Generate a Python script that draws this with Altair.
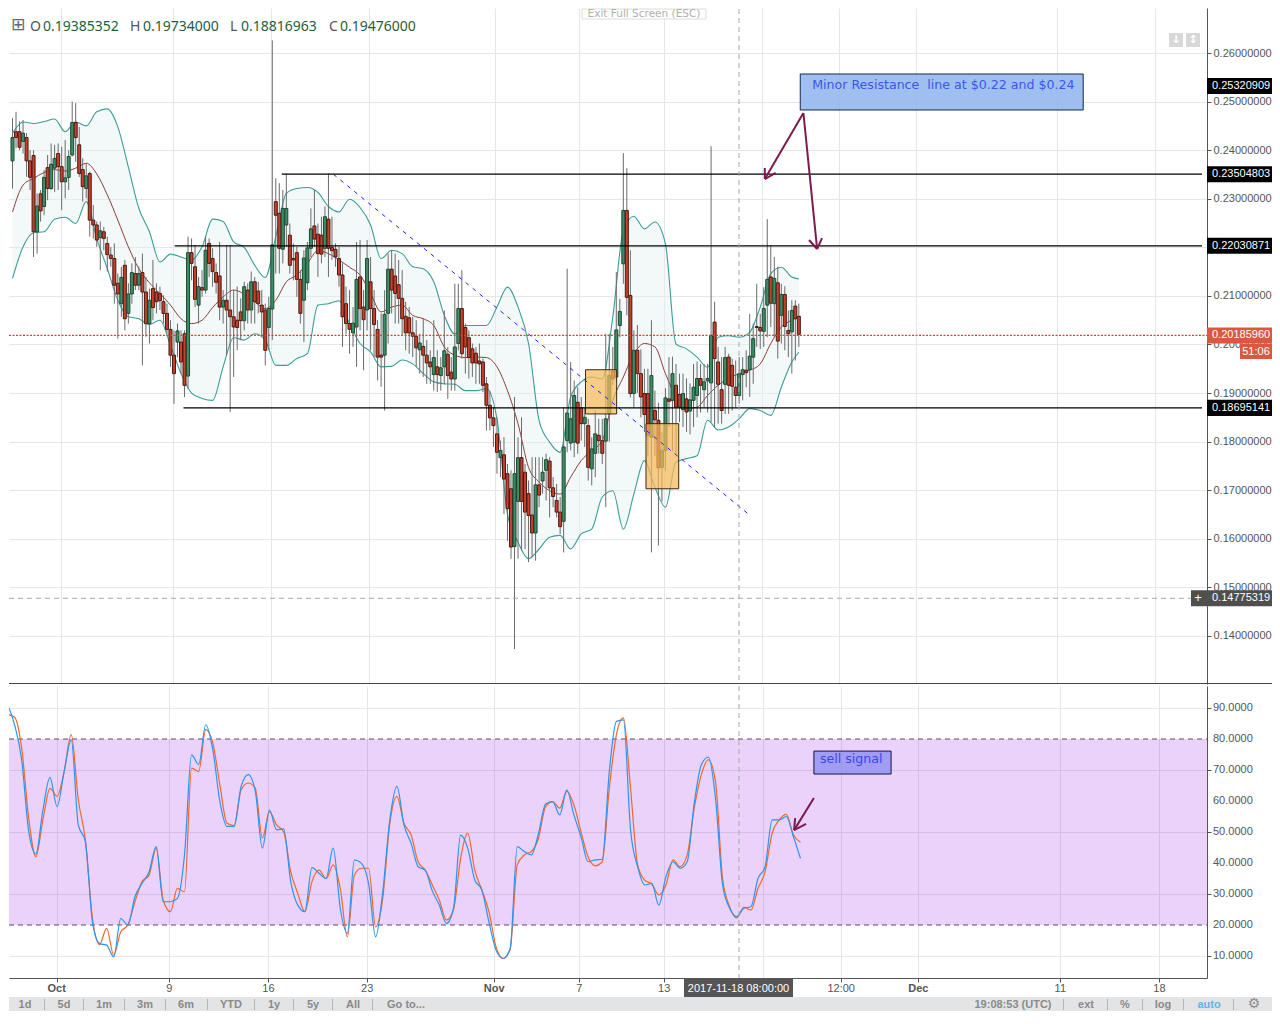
import altair as alt
import pandas as pd

# ---- candles, one row per bar: open, high, low, close (price x 10000)
candles = [
(2378,2466,2321,2426),(2438,2479,2404,2426),(2438,2459,2400,2406),(2418,2462,2393,2435),(2426,2435,2345,2378),
(2378,2400,2318,2344),(2389,2400,2180,2232),(2232,2311,2187,2285),(2310,2318,2253,2275),(2284,2359,2266,2344),
(2364,2390,2297,2321),(2321,2414,2318,2371),(2363,2411,2314,2383),(2393,2414,2318,2366),(2366,2407,2277,2335),
(2335,2421,2301,2343),(2344,2400,2318,2387),(2390,2500,2387,2457),(2457,2497,2376,2426),(2411,2448,2345,2352),
(2360,2383,2294,2325),(2321,2373,2301,2347),(2352,2356,2222,2256),(2256,2287,2218,2246),(2246,2253,2201,2215),
(2220,2253,2153,2234),(2232,2242,2194,2218),(2208,2222,2150,2185),(2184,2201,2160,2177),(2177,2208,2084,2122),
(2126,2146,2012,2104),(2084,2160,2057,2138),(2163,2174,2029,2053),(2064,2126,2043,2104),(2104,2167,2084,2148),
(2146,2180,2112,2122),(2122,2160,2112,2146),(2148,2187,1957,2108),(2108,2139,2016,2043),(2043,2115,2002,2091),
(2115,2174,2050,2076),(2108,2126,2064,2088),(2105,2119,2071,2090),(2088,2101,2043,2064),(2064,2084,2022,2031),
(2031,2050,1954,1978),(1978,2029,1878,1940),(2005,2043,1974,2028),(2005,2029,1940,1964),(2022,2029,1892,1916),
(1935,2222,1909,2189),(2189,2218,2132,2167),(2160,2205,2077,2093),(2081,2139,2043,2119),(2117,2153,2098,2112),
(2112,2222,2105,2194),(2208,2218,2139,2167),(2177,2198,2119,2150),(2148,2167,2105,2128),(2141,2211,2050,2077),
(2077,2112,2043,2091),(2091,2205,1978,2071),(2071,2205,1861,2057),(2057,2112,1933,2036),(2050,2119,1988,2035),
(2067,2095,2009,2049),(2049,2129,2029,2119),(2112,2126,2043,2071),(2071,2150,2043,2129),(2129,2139,2043,2088),
(2110,2129,2064,2084),(2081,2112,2016,2067),(2071,2084,1957,1988),(2035,2098,1988,2074),(2073,2626,2009,2205),
(2294,2342,2146,2266),(2270,2332,2146,2198),(2196,2318,2167,2280),(2246,2352,2201,2280),(2225,2249,2146,2163),
(2177,2208,2132,2174),(2189,2201,2098,2134),(2134,2153,2043,2064),(2091,2194,2005,2178),(2127,2211,2112,2199),
(2198,2280,2180,2238),(2244,2318,2201,2217),(2227,2249,2139,2187),(2225,2263,2167,2186),(2198,2284,2180,2263),
(2258,2352,2139,2198),(2200,2263,2174,2193),(2196,2208,2160,2180),(2177,2201,2119,2143),(2143,2167,1995,2057),
(2084,2119,2022,2043),(2043,2112,1981,2031),(2024,2077,1995,2044),(2036,2211,1954,2134),(2139,2215,2029,2074),
(2077,2112,1947,2051),(2071,2215,2029,2177),(2129,2180,1988,2074),(2074,2112,1974,2041),(2031,2050,1926,1974),
(1978,2064,1913,1974),(1978,2112,1864,2062),(2064,2187,2002,2155),(2155,2194,2064,2112),(2141,2187,2043,2105),
(2123,2174,2043,2095),(2095,2153,2019,2053),(2058,2088,1988,2024),(2055,2077,1981,2024),(2024,2057,1974,2017),
(2017,2050,1954,1993),(1989,2022,1940,2003),(1996,2053,1933,1978),(1978,2009,1919,1962),(1964,1988,1919,1954),
(1938,2050,1905,1973),(1954,1988,1902,1938),(1936,1974,1905,1952),(1954,2070,1919,1987),(1980,1995,1888,1936),
(1943,1974,1905,1929),(1929,2125,1905,1995),(2002,2125,1988,2074),(2074,2153,1971,1981),(2035,2043,1940,1995),
(2014,2029,1930,1973),(1991,2002,1933,1962),(1982,1995,1919,1962),(1966,2002,1919,1960),(1964,1971,1902,1916),
(1919,1933,1823,1875),(1875,1905,1823,1849),(1849,1871,1789,1833),(1816,1850,1734,1778),(1767,1802,1727,1782),
(1773,1809,1651,1723),(1734,1754,1596,1662),(1703,1741,1559,1583),(1584,1892,1373,1734),(1677,1809,1559,1767),
(1767,1850,1576,1677),(1737,1754,1579,1655),(1693,1720,1552,1648),(1649,1768,1562,1612),(1612,1768,1555,1711),
(1711,1768,1665,1690),(1719,1768,1693,1737),(1741,1775,1679,1763),(1760,1768,1644,1705),(1705,1727,1665,1687),
(1679,1713,1644,1655),(1655,1686,1610,1625),(1636,1871,1572,1789),(1802,2156,1778,1859),(1797,1964,1782,1847),
(1799,1926,1768,1895),(1881,1912,1775,1797),(1870,1892,1802,1837),(1837,1871,1789,1850),(1833,1847,1720,1747),
(1744,1809,1710,1785),(1776,1864,1727,1816),(1813,1847,1775,1802),(1802,1847,1754,1776),(1801,2022,1665,1847),
(1857,2022,1800,1936),(1945,1995,1916,1929),(1933,2149,1926,2030),(2039,2094,2015,2068),(2166,2394,2125,2276),
(2276,2363,2060,2097),(2101,2194,1891,1899),(1899,2029,1870,1988),(1988,2040,1900,1940),(1940,1990,1850,1892),
(1899,1950,1820,1856),(1899,1950,1770,1813),(1809,2050,1572,1936),(1864,1905,1770,1845),(1844,1880,1586,1746),
(1747,1820,1677,1782),(1782,1910,1740,1890),(1888,1974,1830,1883),(1885,1975,1780,1940),(1916,1960,1775,1871),
(1897,1940,1840,1871),(1866,1940,1830,1899),(1888,1930,1820,1861),(1863,1920,1815,1886),(1885,1960,1830,1912),
(1895,1965,1850,1930),(1930,1960,1860,1916),(1907,1960,1870,1923),(1925,1960,1860,1930),(1921,2408,1840,2019),
(2046,2088,1830,1971),(1964,1995,1837,1918),(1907,1974,1837,1864),(1918,1995,1857,1973),(1974,1981,1857,1916),
(1957,1971,1864,1914),(1912,1967,1871,1895),(1895,1974,1878,1940),(1938,1974,1885,1948),(1947,1988,1912,1942),
(1948,2063,1892,1976),(1974,2043,1919,2012),(2037,2125,1995,2035),(2035,2063,1991,2028),(2027,2118,1995,2074),
(2081,2258,2015,2134),(2139,2204,2036,2085),(2084,2180,2015,2136),(2127,2160,1971,2007),(2060,2125,2002,2103),
(2103,2120,1988,2037),(2029,2070,1974,2022),(2026,2091,1940,2070),(2079,2091,1967,2053),(2058,2084,1995,2021),
]

# ---- Bollinger bands and moving average, read every third bar (price x 10000)
band_upper = [2435,2458,2455,2459,2464,2438,2458,2450,2479,2485,2448,2365,2280,2232,2170,2186,2180,2174,2201,2258,
 2253,2211,2200,2163,2138,2222,2311,2321,2323,2313,2284,2273,2299,2282,2246,2177,2194,2187,
 2160,2156,2129,2060,2022,2039,2039,2039,2077,2118,2077,2002,1844,1799,1778,1892,1923,1933,1929,2057,
 2235,2264,2238,2252,2207,2001,1991,1974,1953,2015,2018,2015,2025,2077,2146,2159,2139,2135]
band_lower = [2136,2201,2230,2232,2258,2262,2249,2294,2218,2156,2091,2057,2053,2041,2050,1998,1940,1900,1889,1885,
 1954,2014,2009,2022,2009,1957,1957,1971,1981,2081,2084,2090,2043,2002,1985,1954,1955,1968,
 1960,1940,1923,1919,1918,1905,1905,1909,1847,1651,1593,1559,1579,1603,1607,1579,1610,1620,1686,1699,
 1620,1692,1761,1706,1665,1758,1765,1771,1844,1824,1830,1847,1868,1864,1854,1912,1964,1984]
band_mid = [2273,2328,2342,2354,2360,2357,2363,2373,2351,2308,2256,2201,2156,2127,2105,2081,2053,2043,2050,2076,
 2098,2112,2104,2088,2074,2091,2129,2143,2167,2193,2187,2174,2159,2143,2105,2067,2077,2081,
 2060,2053,2039,1995,1978,1973,1974,1973,1954,1905,1837,1747,1717,1699,1692,1727,1761,1782,1802,1885,
 1933,1981,2002,1995,1940,1892,1868,1871,1895,1916,1930,1940,1947,1960,2002,2036,2050,2057]
band_bar = list(range(0, 223, 3)) + [224]

# ---- stochastic, read every second bar
stoch_k = [91.1,84.6,73.3,50.1,42.9,57.1,67.6,58.2,69.5,79.8,52.3,46.9,21.0,14.0,13.5,9.7,22.1,20,29.1,33.4,37.2,45.3,
 27.5,27.5,28.6,42.6,74.9,71.7,84.6,76.5,59.8,51.8,51.8,64.7,68.5,63.1,44.8,57.1,50.7,51,34,26.4,24.3,38.5,36.7,35,
 44.8,25.4,17.3,41,39.9,33.4,16.2,30.7,53.9,64.7,52.3,46.4,38.8,
 37.7,31,26.4,20.5,25.4,49,44.8,34.5,31.3,21,11.9,9.2,12.4,45.3,43.7,42.6,49.6,59,59.8,55.5,63.6,55.5,48.5,40.4,41,
 41.2,69.5,85.7,86.2,50.7,38.8,32.9,33.4,26.4,35.6,40.4,38.3,40.4,59.3,71.7,74.2,60.9,32.9,25.4,22.7,25.4,25.9,35,
 38.8,53.9,53.9,55,48.5,41.5]
stoch_d = [87.9,87,77.1,54.4,42,53.9,64.1,61.5,69.5,81.4,60.4,47.4,22.1,13.7,18.9,10.3,17.8,20,27.5,34,36.1,44.8,28,
 24.3,31.8,30.7,70.6,69.5,83,78.7,65.2,52.8,52.1,63.6,65.8,64.1,48,56.6,52.3,50.1,37.2,30.2,24.3,34,37.7,35,39.4,
 31.8,16.2,36.1,38.3,38.3,19.4,28.6,52.8,61.5,52.8,49.1,40.4,
 37.7,32.9,28,21.6,25.1,41.5,49.6,37.7,31.3,24.3,13,9.2,12.2,39.4,42.6,43.7,48,58.2,59.8,57.7,63.1,58.8,50.1,42,39.1,
 40.4,64.1,81.4,86.8,64.1,39.4,34.5,33.2,29.7,32.9,41,38.8,42.6,57.7,68.5,73.3,66.3,35,25.9,22.3,25.7,24.8,31.8,37.2,
 49.6,53.9,55.7,49.1,46.7]
stoch_bar = list(range(0, 225, 2))

# ---- axes
price_ticks = [0.14,0.15,0.16,0.17,0.18,0.19,0.20,0.21,0.22,0.23,0.24,0.25,0.26]
rsi_ticks = [10,20,30,40,50,60,70,80,90]
time_ticks = [13.9,45.7,73.7,101.6,137.5,161.5,185.5,213.4,235.5,257.3,297.4,325.4]
time_labels = ["Oct","9","16","23","Nov","7","13","","12:00","Dec","11","18"]
time_bold = [True,False,False,False,True,False,False,False,False,True,False,False]

# ---- drawn levels and annotations
level_price = [0.23504803,0.22030871,0.18695141]
level_from = [76.7,46.2,48.7]
tag_price = [0.25320909,0.23504803,0.22030871,0.18695141]
arrows_main = [(225.3,.24765,214.3,.23406),(214.3,.23406,214.3,.23633),(214.3,.23406,217.4,.2353),
               (225.3,.24765,229.2,.21965),(229.2,.21965,226.9,.2215),(229.2,.21965,230.6,.2219)]
arrows_rsi = [(227.8,61,222.2,50.6),(222.2,50.6,222.5,54.5),(222.2,50.6,225.6,52.6)]

# ---- geometry
X0, XR, XE = 9, 1207, 1272
MAIN_TOP, MAIN_BOT = 8, 684
RSI_TOP, RSI_BOT = 685, 977
PAGE_BOT = 1010
W = XR - X0
xscale = alt.Scale(domain=[(X0-7.5)/3.54, (XR-7.5)/3.54], zero=False, nice=False)
pscale = alt.Scale(domain=[0.26-(MAIN_BOT-53)/4858, 0.26-(MAIN_TOP-53)/4858], zero=False, nice=False)
rscale = alt.Scale(domain=[90-(RSI_BOT-707)/3.1, 90-(RSI_TOP-707)/3.1], zero=False, nice=False)
FONT = "Liberation Sans"
GRID = "#e6e6e6"

one = pd.DataFrame({"a":[0]})
def X(f="i"): return alt.X(f"{f}:Q", scale=xscale, title=None)
def P(f="p"): return alt.Y(f"{f}:Q", scale=pscale, title=None)
def R(f="v"): return alt.Y(f"{f}:Q", scale=rscale, title=None)

def label(px, py, top, text, size=11, color="#888", weight="normal", align="left", font=FONT, baseline="middle"):
    return alt.Chart(one).mark_text(fontSize=size, color=color, fontWeight=weight, align=align, font=font, baseline=baseline).encode(
        x=alt.value(px-X0), y=alt.value(py-top), text=alt.value(text))

def box(x1, x2, y1, y2, top, fill, stroke=None, sw=1, op=1.0):
    kw = dict(fill=fill, fillOpacity=op)
    if stroke: kw.update(stroke=stroke, strokeWidth=sw)
    return alt.Chart(one).mark_rect(**kw).encode(
        x=alt.value(x1-X0), x2=alt.value(x2-X0), y=alt.value(y1-top), y2=alt.value(y2-top))

# ---------- main panel
bars = pd.DataFrame(candles, columns=["o","h","l","c"]) / 10000
bars["i"] = range(len(bars))
bars["top"] = bars[["o","c"]].max(axis=1)
bars["bot"] = bars[["o","c"]].min(axis=1)
bars["dir"] = (bars.c >= bars.o).map({True:"up", False:"down"})
bands = pd.DataFrame({"i":band_bar,"u":band_upper,"l":band_lower,"m":band_mid})
bands[["u","l","m"]] = bands[["u","l","m"]]/10000

base_main = alt.Chart(pd.DataFrame({"i":[time_ticks[0]],"p":[0.2]})).mark_point(opacity=0).encode(
    x=alt.X("i:Q", scale=xscale, title=None, axis=alt.Axis(values=time_ticks, labels=False, ticks=False, domain=False,
            grid=True, gridColor=GRID, title=None)),
    y=alt.Y("p:Q", scale=pscale, title=None, axis=alt.Axis(orient="right", values=price_ticks, format=".8f", grid=True,
            gridColor=GRID, domainColor="#555", tickColor="#555", tickSize=4, labelFont=FONT, labelFontSize=11,
            labelColor="#555", labelPadding=2, labelOverlap=False, title=None)))

SMOOTH = "monotone"
band_fill = alt.Chart(bands).mark_area(color="#e3f1f0", opacity=0.45, clip=True, interpolate=SMOOTH).encode(x=X(), y=P("u"), y2="l:Q")
upper = alt.Chart(bands).mark_line(color="#3b9c98", strokeWidth=1.1, clip=True, interpolate=SMOOTH).encode(x=X(), y=P("u"))
lower = alt.Chart(bands).mark_line(color="#3b9c98", strokeWidth=1.1, clip=True, interpolate=SMOOTH).encode(x=X(), y=P("l"))
mid = alt.Chart(bands).mark_line(color="#8c3d3d", strokeWidth=1, clip=True, interpolate=SMOOTH).encode(x=X(), y=P("m"))
wicks = alt.Chart(bars).mark_rule(color="#6b6b6b", strokeWidth=1, clip=True).encode(x=X(), y=P("l"), y2="h:Q")
bodies = alt.Chart(bars).mark_bar(size=3, strokeWidth=1, clip=True).encode(x=X(), y=P("bot"), y2="top:Q",
    color=alt.Color("dir:N", scale=alt.Scale(domain=["up","down"], range=["#3c8c64","#c43f2c"]), legend=None),
    stroke=alt.Stroke("dir:N", scale=alt.Scale(domain=["up","down"], range=["#1c4a34","#4c1a10"]), legend=None))

rects = pd.DataFrame({"i1":[(585.3-7.5)/3.54,(646.3-7.5)/3.54],"i2":[(616.7-7.5)/3.54,(679.3-7.5)/3.54],
                      "p1":[0.1948,0.1837],"p2":[0.1857,0.1703]})
orange = alt.Chart(rects).mark_rect(fill="#f5b95a", fillOpacity=0.72, stroke="#3c2a08", strokeWidth=1).encode(
    x=X("i1"), x2="i2:Q", y=P("p1"), y2="p2:Q")
trend = alt.Chart(pd.DataFrame({"i":[91.4,210.3],"p":[0.23505,0.1647]})).mark_line(color="#2020ff", strokeWidth=1, strokeDash=[4,5]).encode(x=X(), y=P())
levels = alt.Chart(pd.DataFrame({"p":level_price,"i1":level_from,"i2":[(XR-7.5)/3.54]*3})).mark_rule(color="#000", strokeWidth=1.2).encode(
    x=X("i1"), x2="i2:Q", y=P())
last_line = alt.Chart(pd.DataFrame({"p":[0.2018596]})).mark_rule(color="#e0402a", strokeWidth=1.2, strokeDash=[2,1.5]).encode(
    x=alt.value(0), x2=alt.value(W), y=P())
cross_h = alt.Chart(pd.DataFrame({"p":[0.14775319]})).mark_rule(color="#a8a8a8", strokeWidth=1, strokeDash=[5,4]).encode(
    x=alt.value(0), x2=alt.value(W), y=P())
cross_v = alt.Chart(one).mark_rule(color="#a8a8a8", strokeWidth=1, strokeDash=[5,4]).encode(
    x=alt.value(739-X0), y=alt.value(1), y2=alt.value(MAIN_BOT-MAIN_TOP))

note_main = alt.Chart(pd.DataFrame({"i1":[224.4],"i2":[305.0],"p1":[0.25568],"p2":[0.24827]})).mark_rect(
    fill="#8fb4ee", fillOpacity=0.85, stroke="#14284a", strokeWidth=1).encode(x=X("i1"), x2="i2:Q", y=P("p1"), y2="p2:Q")
note_main_t = alt.Chart(pd.DataFrame({"i":[227.8],"p":[0.25341],"t":["Minor Resistance\u00a0 line at $0.22 and $0.24"]})).mark_text(
    font="DejaVu Sans", fontSize=12.6, color="#3a56f0", align="left", baseline="middle").encode(x=X(), y=P(), text="t:N")
arrow_df = pd.DataFrame(arrows_main, columns=["i1","p1","i2","p2"])
arrow_main = alt.Chart(arrow_df).mark_rule(color="#7b1b4e", strokeWidth=2).encode(x=X("i1"), x2="i2:Q", y=P("p1"), y2="p2:Q")

tags = pd.DataFrame({"p":tag_price,"t":[f"{v:.8f}" for v in tag_price]})
tags["a"] = tags.p+0.00165; tags["b"] = tags.p-0.00165
tag_rect = alt.Chart(tags).mark_rect(fill="#000").encode(x=alt.value(XR-X0), x2=alt.value(XE-X0), y=P("a"), y2="b:Q")
tag_text = alt.Chart(tags).mark_text(color="#fff", font=FONT, fontSize=11, align="left", baseline="middle").encode(
    x=alt.value(1212-X0), y=P(), text="t:N")
red_tag = pd.DataFrame({"p":[0.2018596],"a":[0.2018596+0.00165],"b":[0.2018596-0.00165],"t":["0.20185960"]})
red_rect = alt.Chart(red_tag).mark_rect(fill="#d9583f").encode(x=alt.value(XR-X0), x2=alt.value(XE-X0), y=P("a"), y2="b:Q")
red_text = alt.Chart(red_tag).mark_text(color="#fff", font=FONT, fontSize=11, align="left", baseline="middle").encode(
    x=alt.value(1212-X0), y=P(), text="t:N")
cross_tag = pd.DataFrame({"p":[0.14775319],"a":[0.14775319+0.00165],"b":[0.14775319-0.00165],"t":["0.14775319"]})
cross_rect = alt.Chart(cross_tag).mark_rect(fill="#4f4f4f").encode(x=alt.value(1191-X0), x2=alt.value(XE-X0), y=P("a"), y2="b:Q")
cross_text = alt.Chart(cross_tag).mark_text(color="#fff", font=FONT, fontSize=11, align="left", baseline="middle").encode(
    x=alt.value(1212-X0), y=P(), text="t:N")
cross_plus = alt.Chart(cross_tag).mark_text(color="#fff", font=FONT, fontSize=13, align="center", baseline="middle").encode(
    x=alt.value(1198-X0), y=P(), text=alt.value("+"))

T = MAIN_TOP
header = [label(11, 25, T, "⊞", size=17, color="#666", font="DejaVu Sans")]
for px, txt, col in [(30,"O","#555"),(43,"0.19385352","#1f5e3c"),(130,"H","#555"),(143,"0.19734000","#1f5e3c"),
                     (230,"L","#555"),(241,"0.18816963","#1f5e3c"),(329,"C","#555"),(340,"0.19476000","#1f5e3c")]:
    header.append(label(px, 27, T, txt, size=14, color=col, font="Noto Sans"))
fullscreen = [box(582, 706, 9, 19, T, "#ffffff", "#dcdcdc"), label(644, 14, T, "Exit Full Screen (ESC)", size=10.5, color="#b0b0b0", align="center", font="DejaVu Sans")]
icons = [box(1169,1183,33,47,T,"#d8d8d8"), box(1186,1200,33,47,T,"#d8d8d8"),
         label(1176,40,T,"↓",size=11,color="#fff",align="center",font="DejaVu Sans",weight="bold"),
         label(1193,40,T,"↕",size=11,color="#fff",align="center",font="DejaVu Sans",weight="bold")]
countdown = [box(1240,XE,344,359,T,"#d9583f"), label(1256,352,T,"51:06",color="#fff",align="center")]
sep_line = [box(X0,XE,683,684,T,"#444444")]

main = alt.layer(base_main, band_fill, upper, lower, mid, wicks, bodies, orange, trend, levels, last_line, cross_h, cross_v,
                 note_main, note_main_t, arrow_main, tag_rect, tag_text, red_rect, red_text, cross_rect, cross_text, cross_plus,
                 *header, *fullscreen, *icons, *countdown, *sep_line).properties(width=W, height=MAIN_BOT-MAIN_TOP)

# ---------- stochastic panel
base_rsi = alt.Chart(pd.DataFrame({"i":[time_ticks[0]],"v":[50]})).mark_point(opacity=0).encode(
    x=alt.X("i:Q", scale=xscale, title=None, axis=alt.Axis(values=time_ticks, labels=False, ticks=True, tickSize=4, tickColor="#555",
            domain=True, domainColor="#555", grid=True, gridColor=GRID, title=None)),
    y=alt.Y("v:Q", scale=rscale, title=None, axis=alt.Axis(orient="right", values=rsi_ticks, labels=False, grid=True,
            gridColor=GRID, domainColor="#555", tickColor="#555", tickSize=4, title=None)))
rsi_labels = alt.Chart(pd.DataFrame({"v":rsi_ticks,"t":[f"{v:.4f}" for v in rsi_ticks]})).mark_text(
    font=FONT, fontSize=11, color="#555", align="left", baseline="middle").encode(x=alt.value(1213-X0), y=R(), text="t:N")
band = alt.Chart(pd.DataFrame({"a":[80],"b":[20]})).mark_rect(fill="#910fec", fillOpacity=0.19).encode(
    x=alt.value(0), x2=alt.value(W), y=R("a"), y2="b:Q")
band_lines = alt.Chart(pd.DataFrame({"v":[80,20]})).mark_rule(color="#5a4a66", strokeWidth=1, strokeDash=[5,4]).encode(
    x=alt.value(0), x2=alt.value(W), y=R())
sd = alt.Chart(pd.DataFrame({"i":stoch_bar,"v":stoch_d})).mark_line(color="#f0682a", strokeWidth=1.2, clip=True, interpolate=SMOOTH).encode(x=X(), y=R())
sk = alt.Chart(pd.DataFrame({"i":stoch_bar,"v":stoch_k})).mark_line(color="#2a95f0", strokeWidth=1.2, clip=True, interpolate=SMOOTH).encode(x=X(), y=R())
cross_v2 = alt.Chart(one).mark_rule(color="#a8a8a8", strokeWidth=1, strokeDash=[5,4]).encode(
    x=alt.value(739-X0), y=alt.value(0), y2=alt.value(RSI_BOT-RSI_TOP))
note_rsi = alt.Chart(pd.DataFrame({"i1":[227.8],"i2":[249.6],"a":[76.1],"b":[68.7]})).mark_rect(
    fill="#8f90f2", fillOpacity=0.8, stroke="#14144a", strokeWidth=1).encode(x=X("i1"), x2="i2:Q", y=R("a"), y2="b:Q")
note_rsi_t = alt.Chart(pd.DataFrame({"i":[229.5],"v":[73.5],"t":["sell signal"]})).mark_text(
    font="DejaVu Sans", fontSize=12.6, color="#3a46f0", align="left", baseline="middle").encode(x=X(), y=R(), text="t:N")
arrow_rsi = alt.Chart(pd.DataFrame(arrows_rsi, columns=["i1","v1","i2","v2"])).mark_rule(color="#7b1b4e", strokeWidth=2).encode(
    x=X("i1"), x2="i2:Q", y=R("v1"), y2="v2:Q")

tick_df = pd.DataFrame({"i":time_ticks,"t":time_labels,"b":time_bold})
tick_n = alt.Chart(tick_df[~tick_df.b]).mark_text(font=FONT, fontSize=11, color="#555", baseline="middle").encode(
    x=X(), y=alt.value(988-RSI_TOP), text="t:N")
tick_b = alt.Chart(tick_df[tick_df.b]).mark_text(font=FONT, fontSize=11, fontWeight="bold", color="#555", baseline="middle").encode(
    x=X(), y=alt.value(988-RSI_TOP), text="t:N")

T = RSI_TOP
date_tag = [box(684,793,978,996,T,"#555555"), label(738.5,988,T,"2017-11-18 08:00:00",color="#fff",align="center")]
toolbar = [box(X0,XE,996,PAGE_BOT,T,"#e3e4e6")]
for px, txt in [(25,"1d"),(64,"5d"),(104,"1m"),(145,"3m"),(186,"6m"),(231,"YTD"),(274,"1y"),(313,"5y"),(353,"All"),(406,"Go to..."),
                (1086,"ext"),(1125,"%"),(1163,"log")]:
    toolbar.append(label(px, 1004, T, txt, color="#8a8a8a", align="center", weight="bold"))
toolbar.append(label(1013, 1004, T, "19:08:53 (UTC)", color="#8a8a8a", align="center", weight="bold"))
toolbar.append(label(1209, 1004, T, "auto", color="#5db3ee", align="center", weight="bold"))
toolbar.append(label(1254, 1003, T, "⚙", size=14, color="#8a8a8a", align="center", font="DejaVu Sans"))
for p in [44,83,124,165,207,254,293,332,372,1063,1107,1142,1183,1233]:
    toolbar.append(box(p, p+1, 998, PAGE_BOT-1, T, "#b5b5b5"))

sub = alt.layer(base_rsi, band, band_lines, sd, sk, cross_v2, note_rsi, note_rsi_t, arrow_rsi, rsi_labels, tick_n, tick_b,
                *date_tag, *toolbar).properties(width=W, height=RSI_BOT-RSI_TOP)

chart = alt.vconcat(main, sub, spacing=0).properties(padding=0).configure_view(stroke=None)
chart.save("out.html", embed_options={"renderer": "svg", "actions": False})
